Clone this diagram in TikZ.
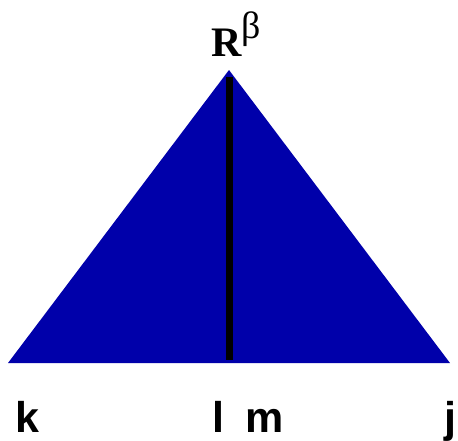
\documentclass[tikz,border=0pt]{standalone}
\usepackage{fontspec}
\setmainfont{Liberation Serif}
\setsansfont{Liberation Sans}
\usetikzlibrary{positioning}
\definecolor{tribl}{HTML}{0000AA}
\tikzset{
  lbl/.style={font=\sffamily\bfseries\fontsize{43}{43}\selectfont, anchor=base, inner sep=0pt},
  spine/.style={line width=7pt, black}
}

\begin{document}
\begin{tikzpicture}[x=1pt, y=-1pt]
  \useasboundingbox (0,0) rectangle (458,440);

  \coordinate (apex) at (229,70);
  \coordinate (left) at (8,363);
  \coordinate (right) at (450,363);
  \coordinate (top) at (229,77);
  \coordinate (foot) at (229,360);

  \fill[tribl] (left) -- (apex) -- (right) -- cycle;
  \draw[spine] (top) -- (foot);

  % root label
  \node[anchor=base west, inner sep=0pt] (root) at (211,56)
    {\fontsize{42}{42}\selectfont\bfseries R\raisebox{18pt}{\mdseries\fontsize{38}{38}\selectfont β}};

  % leaves
  \node[lbl] (k) at (27,432) {k};
  \node[lbl] (l) at (218,432) {l};
  \node[lbl] (m) at (265,432) {m};
  \node[lbl] (j) at (450,432) {j};
\end{tikzpicture}
\end{document}
